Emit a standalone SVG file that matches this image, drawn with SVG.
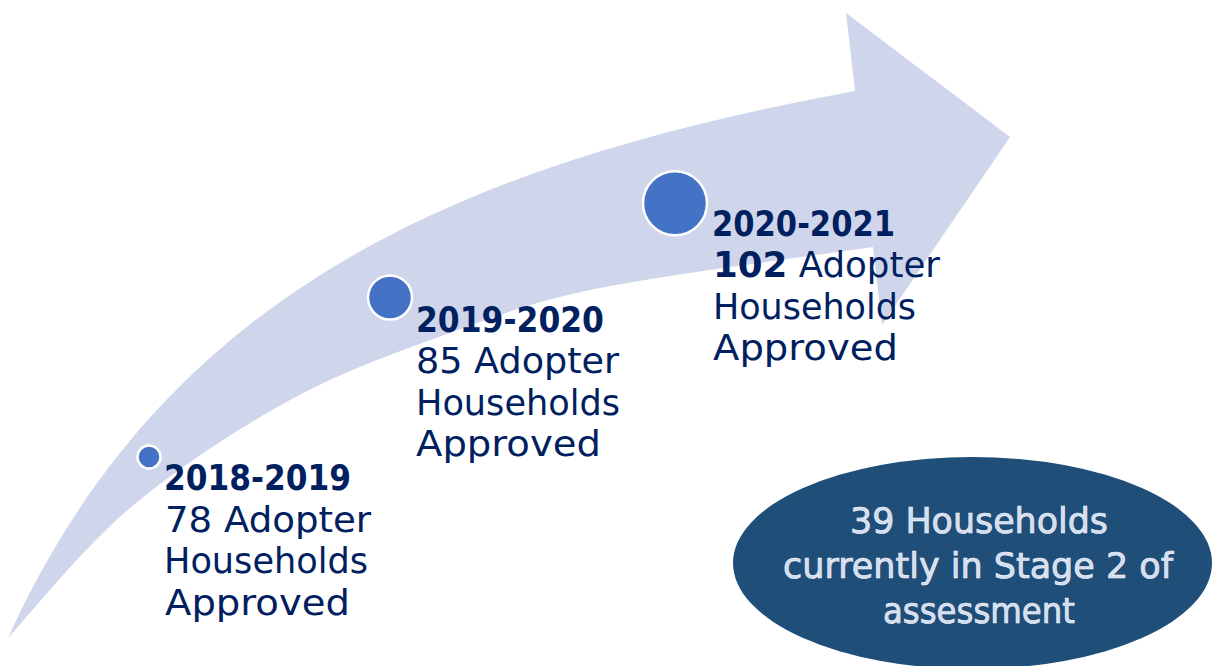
<svg xmlns="http://www.w3.org/2000/svg" width="1212" height="666" viewBox="0 0 1212 666">
  <style>
    .lbl { font-family: "DejaVu Sans", "Noto Sans", sans-serif; font-size: 35px; fill: #002060; }
    .yr { font-weight: bold; }
    .dot { fill: #4472C4; stroke: #FFFFFF; stroke-width: 2.5; }
    .oval-txt { font-family: "DejaVu Sans", "Noto Sans", sans-serif; font-size: 36px; fill: #D3DCEE; stroke: #F2F5FB; stroke-width: 0.7; text-anchor: middle; }
  </style>
  <rect width="1212" height="666" fill="#FFFFFF"/>
  <g id="arrow">
    <path fill="#CFD5EA" d="M8,638 C170,280 480,160 855,91 L846,13 L1010,137 L882,325 L873,247 C827.5,253.8 670.5,273.7 600,288 C529.5,302.3 501.7,314.3 450,333 C398.3,351.7 343.3,370.8 290,400 C236.7,429.2 177,468.3 130,508 C83,547.7 28.3,616.3 8,638 Z"/>
  </g>
  <g id="milestone-2018">
    <circle class="dot" cx="149" cy="457" r="11.5"/>
    <text class="lbl yr" x="164" y="490" textLength="187" lengthAdjust="spacingAndGlyphs">2018-2019</text>
    <text class="lbl" x="165" y="531.5" textLength="206" lengthAdjust="spacingAndGlyphs">78 Adopter</text>
    <text class="lbl" x="164" y="573" textLength="204" lengthAdjust="spacingAndGlyphs">Households</text>
    <text class="lbl" x="165" y="614.5" textLength="185" lengthAdjust="spacingAndGlyphs">Approved</text>
  </g>
  <g id="milestone-2019">
    <circle class="dot" cx="390" cy="297.5" r="22"/>
    <text class="lbl yr" x="416" y="332" textLength="188" lengthAdjust="spacingAndGlyphs">2019-2020</text>
    <text class="lbl" x="416" y="373" textLength="203" lengthAdjust="spacingAndGlyphs">85 Adopter</text>
    <text class="lbl" x="416" y="414.5" textLength="204" lengthAdjust="spacingAndGlyphs">Households</text>
    <text class="lbl" x="416" y="455.5" textLength="185" lengthAdjust="spacingAndGlyphs">Approved</text>
  </g>
  <g id="milestone-2020">
    <circle class="dot" cx="675" cy="203.3" r="32"/>
    <text class="lbl yr" x="712" y="236" textLength="183" lengthAdjust="spacingAndGlyphs">2020-2021</text>
    <text class="lbl" x="713" y="277" textLength="227" lengthAdjust="spacingAndGlyphs"><tspan class="yr">102</tspan> Adopter</text>
    <text class="lbl" x="713" y="318.5" textLength="203" lengthAdjust="spacingAndGlyphs">Households</text>
    <text class="lbl" x="713" y="360" textLength="185" lengthAdjust="spacingAndGlyphs">Approved</text>
  </g>
  <g id="stage2-oval">
    <ellipse cx="972.5" cy="563" rx="239.5" ry="106" fill="#1F4E79"/>
    <text class="oval-txt" x="979" y="533" textLength="258" lengthAdjust="spacingAndGlyphs">39 Households</text>
    <text class="oval-txt" x="978" y="578" textLength="390" lengthAdjust="spacingAndGlyphs">currently in Stage 2 of</text>
    <text class="oval-txt" x="979" y="623" textLength="192" lengthAdjust="spacingAndGlyphs">assessment</text>
  </g>
</svg>
